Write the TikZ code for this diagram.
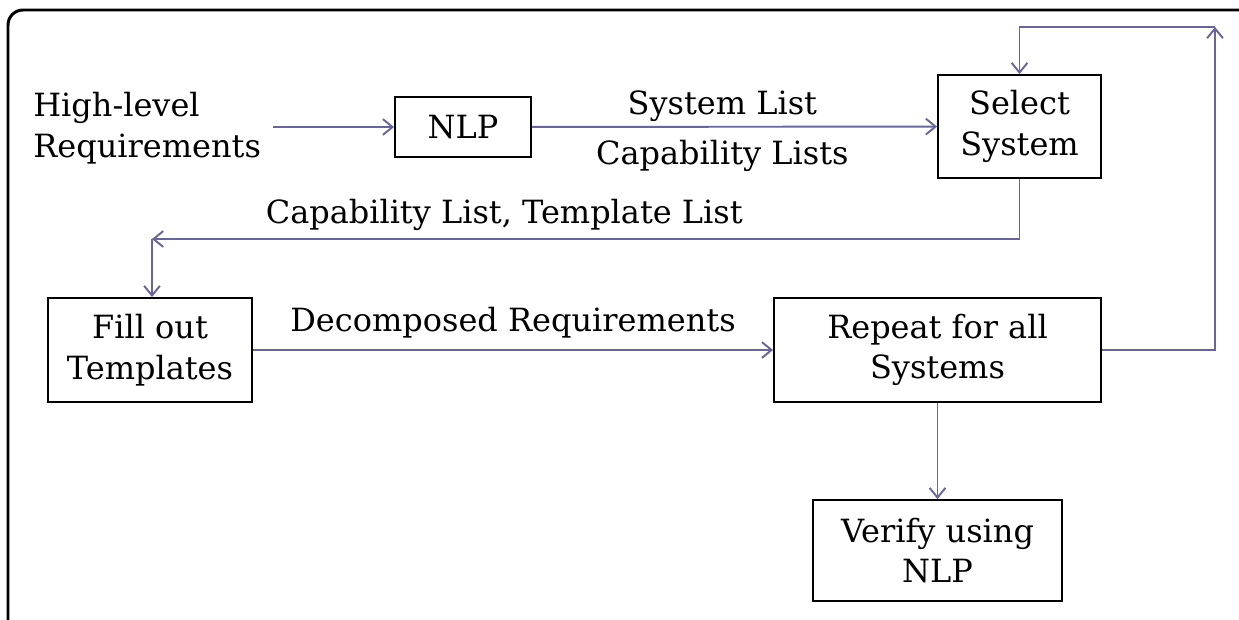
\documentclass[tikz,border=0pt]{standalone}
\usepackage{fontspec}
\setmainfont{DejaVu Serif}
\usetikzlibrary{arrows.meta}

\definecolor{flowline}{RGB}{104,100,158}

\begin{document}
\begin{tikzpicture}[x=0.02cm,y=-0.02cm]
\tikzstyle{every node} = [rectangle, font=\fontsize{18.2}{23}\selectfont, align=center]
\tikzstyle{box} = [draw=black, line width=1.1pt, inner sep=0pt]
\tikzstyle{flow} = [draw=flowline, line width=1.1pt, -{Straight Barb[length=5.5pt,width=9pt]}]
\useasboundingbox (0,0) rectangle (1239,619);

% outer frame, only top and left edges inside the picture
\begin{scope}
\clip (0,0) rectangle (1239,619);
\draw[line width=1.7pt, rounded corners=0.3cm] (8,10) rectangle (1300,700);
\end{scope}

\node[anchor=west, align=left, inner sep=0pt] (req) at (33,128) {High-level\\Requirements};
\node[box, minimum width=2.72cm, minimum height=1.2cm] (nlp) at (463,127) {NLP};
\node[box, minimum width=3.26cm, minimum height=2.06cm] (sel) at (1019.5,126.5) {Select\\System};
\node[box, minimum width=4.08cm, minimum height=2.08cm] (fill) at (150,350) {Fill out\\Templates};
\node[box, minimum width=6.54cm, minimum height=2.08cm] (rep) at (937.5,350) {Repeat for all\\Systems};
\node[box, minimum width=4.98cm, minimum height=2.02cm] (ver) at (937.5,550.5) {Verify using\\NLP};
\coordinate (capend) at (152,239);
\coordinate (loop) at (1215,27);

\draw [flow] ([xshift=0.24cm]req.east |- nlp.west) -- (nlp);
\draw [flow] (nlp) -- node[pos=0.47, above=-1pt] {System List} node[pos=0.47, below=4pt] {Capability Lists} (sel);
\draw [flow] (sel.south) |- node[pos=0.797, above=1pt] {Capability List, Template List} (capend);
\draw [flow] (capend) -- (capend |- fill.north);
\draw [flow] (fill) -- node[above=3pt] {Decomposed Requirements} (rep);
\draw [flow] (rep.east) -| (loop);
\draw [flow] (loop) -| (sel.north);
\draw [flow] (rep) -- (ver);
\end{tikzpicture}
\end{document}
